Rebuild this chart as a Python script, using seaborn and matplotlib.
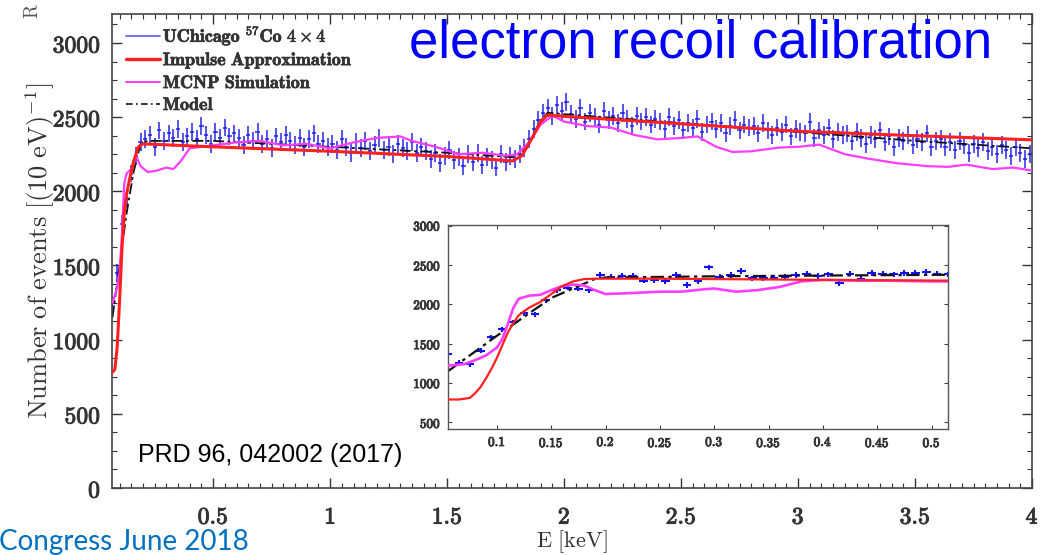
import numpy as np
import pandas as pd
import matplotlib
matplotlib.use("Agg")
import matplotlib.pyplot as plt
import matplotlib.patheffects as pe
import seaborn as sns
from matplotlib.ticker import MultipleLocator, FuncFormatter
from matplotlib.lines import Line2D

# ---------------- data ----------------
# main panel: measured spectrum, 20 eV spaced bins starting at 0.07 keV
data_start, data_step = 0.07, 0.02
data_counts = [
    1230, 1450, 1780, 1950, 2120, 2240, 2330,
    2350, 2380, 2300, 2410, 2340, 2390, 2360, 2420, 2330, 2370,
    2400, 2350, 2440, 2380, 2320, 2400, 2360, 2430, 2370, 2390,
    2360, 2310, 2380, 2340, 2400, 2320, 2350, 2290, 2370, 2330,
    2380, 2340, 2310, 2360, 2300, 2350, 2390, 2320, 2340, 2300,
    2320, 2280, 2350, 2300, 2260, 2330, 2290, 2340, 2270, 2310,
    2360, 2280, 2300, 2250, 2320, 2290, 2270, 2330, 2260, 2300,
    2270, 2220, 2260, 2190, 2240, 2280, 2210, 2230, 2170, 2250,
    2200, 2260, 2180, 2230, 2210, 2160, 2250, 2200, 2240, 2220,
    2250, 2290, 2350, 2420, 2480, 2530, 2560, 2510, 2580, 2540,
    2600, 2520, 2490, 2560, 2470, 2530, 2500, 2450, 2540, 2480,
    2510, 2460, 2530, 2490, 2440, 2510, 2470, 2500, 2450, 2490,
    2470, 2420, 2500, 2440, 2480, 2410, 2460, 2430, 2490, 2400,
    2450, 2470, 2420, 2460, 2390, 2440, 2480, 2410, 2450, 2430,
    2440, 2390, 2460, 2410, 2380, 2430, 2400, 2450, 2370, 2420,
    2400, 2390, 2470, 2360, 2410, 2380, 2430, 2350, 2400, 2380,
    2390, 2340, 2400, 2360, 2320, 2380, 2350, 2410, 2330, 2370,
    2300, 2360, 2340, 2380, 2310, 2350, 2330, 2390, 2300, 2340,
    2350, 2300, 2330, 2280, 2340, 2310, 2260, 2320, 2290, 2330,
    2270, 2300, 2250, 2310, 2280, 2240, 2300, 2260, 2220, 2250,
]
data_err = 60

impulse_E = [0.07, 0.08, 0.09, 0.10, 0.11, 0.12, 0.13, 0.14, 0.16, 0.18, 0.20,
             0.5, 1.0, 1.5, 1.78, 1.82, 1.86, 1.90, 1.93, 2.0, 2.5, 3.0, 3.5, 4.0]
impulse_N = [780, 800, 950, 1250, 1600, 1850, 1980, 2060, 2200, 2300, 2320,
             2300, 2270, 2235, 2205, 2240, 2350, 2470, 2515, 2505, 2455, 2405, 2375, 2347]

mcnp_E = [0.07, 0.09, 0.10, 0.11, 0.12, 0.13, 0.15, 0.17, 0.19, 0.22, 0.26, 0.30,
          0.33, 0.36, 0.40, 0.50, 0.60, 0.70, 0.80, 0.90, 1.00, 1.10, 1.20, 1.30,
          1.35, 1.45, 1.55, 1.65, 1.75, 1.80, 1.85, 1.90, 1.95, 2.00, 2.10, 2.20,
          2.30, 2.40, 2.50, 2.57, 2.65, 2.72, 2.80, 2.92, 3.00, 3.09, 3.20, 3.30,
          3.42, 3.55, 3.64, 3.72, 3.83, 3.92, 4.00]
mcnp_N = [1250, 1350, 1450, 1700, 2050, 2120, 2150, 2240, 2170, 2130, 2140, 2160,
          2150, 2200, 2290, 2310, 2330, 2340, 2310, 2320, 2290, 2330, 2360, 2370,
          2340, 2300, 2250, 2260, 2240, 2250, 2330, 2450, 2510, 2470, 2440, 2430,
          2380, 2350, 2360, 2370, 2300, 2265, 2270, 2295, 2300, 2315, 2250, 2220,
          2190, 2170, 2165, 2180, 2150, 2160, 2140]

model_E = [0.07, 0.10, 0.13, 0.16, 0.19, 0.22, 0.5, 1.0, 1.5, 1.78, 1.82, 1.86,
           1.90, 1.93, 2.0, 2.5, 3.0, 3.5, 4.0]
model_N = [1150, 1500, 1850, 2130, 2320, 2340, 2340, 2300, 2260, 2230, 2260, 2360,
           2480, 2530, 2520, 2460, 2400, 2340, 2290]

# inset panel: low-energy zoom, 10 eV bins starting at 0.055 keV
inset_start, inset_step = 0.055, 0.01
inset_counts = [1370, 1260, 1235, 1410, 1580, 1680, 1770, 1890, 1870, 2050,
                2180, 2210, 2200, 2180, 2370, 2350, 2360, 2360, 2300, 2310,
                2290, 2370, 2245, 2290, 2470, 2350, 2370, 2420, 2330, 2330,
                2340, 2350, 2370, 2390, 2360, 2380, 2270, 2390, 2320, 2400,
                2390, 2380, 2400, 2400, 2410, 2390, 2380]
inset_err = 35

inset_imp_E = [0.055, 0.065, 0.075, 0.08, 0.085, 0.09, 0.095, 0.10, 0.105, 0.11,
               0.115, 0.12, 0.13, 0.14, 0.15, 0.16, 0.17, 0.18, 0.19, 0.25, 0.30,
               0.40, 0.52]
inset_imp_N = [790, 790, 810, 870, 950, 1060, 1180, 1320, 1480, 1640, 1760, 1860,
               1960, 2030, 2130, 2230, 2290, 2320, 2325, 2325, 2320, 2310, 2300]

inset_mcnp_E = [0.055, 0.07, 0.08, 0.09, 0.10, 0.105, 0.11, 0.115, 0.12, 0.13,
                0.14, 0.15, 0.16, 0.17, 0.18, 0.19, 0.20, 0.22, 0.25, 0.27, 0.29,
                0.30, 0.32, 0.34, 0.36, 0.38, 0.40, 0.43, 0.46, 0.50, 0.52]
inset_mcnp_N = [1220, 1240, 1290, 1350, 1450, 1560, 1750, 1950, 2070, 2110, 2120,
                2180, 2230, 2250, 2240, 2180, 2130, 2140, 2160, 2160, 2190, 2200,
                2160, 2180, 2220, 2290, 2310, 2300, 2300, 2290, 2290]

inset_model_E = [0.055, 0.10, 0.15, 0.19, 0.20, 0.30, 0.40, 0.52]
inset_model_N = [1150, 1600, 2080, 2320, 2340, 2355, 2365, 2375]

legend_labels = [r"$\mathbf{UChicago}\ {}^{57}\mathbf{Co}\ \mathbf{4\times4}$",
                 r"$\mathbf{Impulse\ Approximation}$",
                 r"$\mathbf{MCNP\ Simulation}$",
                 r"$\mathbf{Model}$"]

# ---------------- styling ----------------
C_DATA = "#1515ee"
C_IMP = "#ff2020"
C_MCNP = "#ff3cff"
C_MODEL = "#111111"
DASHDOT = (0, (6, 2, 1.5, 2))
BOLDEN = [pe.withStroke(linewidth=0.7, foreground="#333333")]

sns.set_theme(style="ticks")
plt.rcParams["font.family"] = ["DejaVu Sans"]
plt.rcParams["mathtext.fontset"] = "cm"

fig = plt.figure(figsize=(10.48, 5.55), dpi=100)
ax = fig.add_axes([0.1069, 0.1207, 0.8779, 0.854])

data_E = data_start + data_step * np.arange(len(data_counts))
df_data = pd.DataFrame({"E": data_E, "N": data_counts})

ax.errorbar(df_data["E"], df_data["N"], yerr=data_err, xerr=0.009, fmt="none",
            ecolor=C_DATA, elinewidth=1.2, alpha=0.85, zorder=1)
sns.lineplot(x=model_E, y=model_N, ax=ax, color=C_MODEL, linewidth=1.3, zorder=2)
ax.lines[-1].set_linestyle(DASHDOT)
sns.lineplot(x=mcnp_E, y=mcnp_N, ax=ax, color=C_MCNP, linewidth=1.6, zorder=3)
sns.lineplot(x=impulse_E, y=impulse_N, ax=ax, color=C_IMP, linewidth=2.2, zorder=4)

ax.set_xlim(0.068, 4.0)
ax.set_ylim(0, 3195)
ax.xaxis.set_major_locator(MultipleLocator(0.5))
ax.xaxis.set_minor_locator(MultipleLocator(0.05))
ax.yaxis.set_major_locator(MultipleLocator(500))
ax.yaxis.set_minor_locator(MultipleLocator(125))
fmt = FuncFormatter(lambda v, p: r"$\mathbf{%g}$" % v)
ax.xaxis.set_major_formatter(fmt)
ax.yaxis.set_major_formatter(fmt)
ax.tick_params(which="both", direction="in", top=True, right=True, colors="#333333",
               labelcolor="#333333")
ax.tick_params(which="major", length=7, width=1.0, labelsize=17)
ax.tick_params(which="minor", length=3.5, width=0.8)
ax.tick_params(axis="x", which="major", pad=12)
ax.tick_params(axis="y", which="major", pad=8)
for s in ax.spines.values():
    s.set_color("#444444")
    s.set_linewidth(1.2)

ax.set_xlabel(r"$\mathrm{E\ [keV]}$", fontsize=16, color="#333333", labelpad=0)
ax.set_ylabel(r"$\mathrm{Number\ of\ events\ [(10\ eV)^{-1}]}$", fontsize=19,
              color="#333333", labelpad=-3)

handles = [Line2D([], [], color="#5a5aff", lw=1.2),
           Line2D([], [], color=C_IMP, lw=2.4),
           Line2D([], [], color=C_MCNP, lw=1.4),
           Line2D([], [], color=C_MODEL, lw=1.2, linestyle=(0, (4, 2, 1, 2)))]
leg = ax.legend(handles, legend_labels, loc="upper left", bbox_to_anchor=(0.015, 0.98),
                frameon=False, fontsize=13, handlelength=1.9, handletextpad=0.15,
                labelspacing=0.22, borderpad=0, borderaxespad=0)
for t in leg.get_texts():
    t.set_color("#333333")

# ---------------- inset ----------------
axin = fig.add_axes([0.4275, 0.227, 0.477, 0.368])
axin.set_facecolor("white")
inset_E = inset_start + inset_step * np.arange(len(inset_counts))
df_in = pd.DataFrame({"E": inset_E, "N": inset_counts})
axin.errorbar(df_in["E"], df_in["N"], yerr=inset_err, xerr=0.004, fmt="none",
              ecolor="#1010ff", elinewidth=1.5, zorder=1)
sns.lineplot(x=inset_model_E, y=inset_model_N, ax=axin, color=C_MODEL, linewidth=1.6, zorder=2)
axin.lines[-1].set_linestyle((0, (6, 2, 1.5, 2)))
sns.lineplot(x=inset_mcnp_E, y=inset_mcnp_N, ax=axin, color=C_MCNP, linewidth=1.9, zorder=3)
sns.lineplot(x=inset_imp_E, y=inset_imp_N, ax=axin, color=C_IMP, linewidth=1.6, zorder=4)
axin.set_xlim(0.055, 0.515)
axin.set_ylim(415, 3010)
axin.xaxis.set_major_locator(MultipleLocator(0.05))
axin.yaxis.set_major_locator(MultipleLocator(500))
fmt2 = FuncFormatter(lambda v, p: r"$\mathbf{%g}$" % v)
axin.xaxis.set_major_formatter(fmt2)
axin.yaxis.set_major_formatter(fmt2)
axin.tick_params(which="both", direction="in", top=True, right=True, length=3,
                 width=0.8, labelsize=9.5, colors="#444444", labelcolor="#333333", pad=5)
for s in axin.spines.values():
    s.set_color("#555555")
    s.set_linewidth(1.0)

for lab in ax.get_xticklabels() + ax.get_yticklabels() + \
        axin.get_xticklabels() + axin.get_yticklabels():
    lab.set_path_effects(BOLDEN)
for t in leg.get_texts():
    t.set_path_effects([pe.withStroke(linewidth=0.5, foreground="#333333")])

# ---------------- annotations ----------------
fig.text(0.668, 0.922, "electron recoil calibration", color="#0000ff",
         fontsize=38, family=["Liberation Sans"], ha="center", va="center")
fig.text(0.132, 0.180, "PRD 96, 042002 (2017)", color="black",
         fontsize=18, family=["Liberation Sans"], ha="left", va="center")
fig.text(0.237, 0.024, "Congress June 2018", color="#0070c0",
         fontsize=20, family=["Lato"], ha="right", va="center")
fig.text(0.031, 0.995, r"$\mathrm{R}$", color="#555555", fontsize=14,
         rotation=90, ha="center", va="top")

fig.savefig("out.png", dpi=100)
